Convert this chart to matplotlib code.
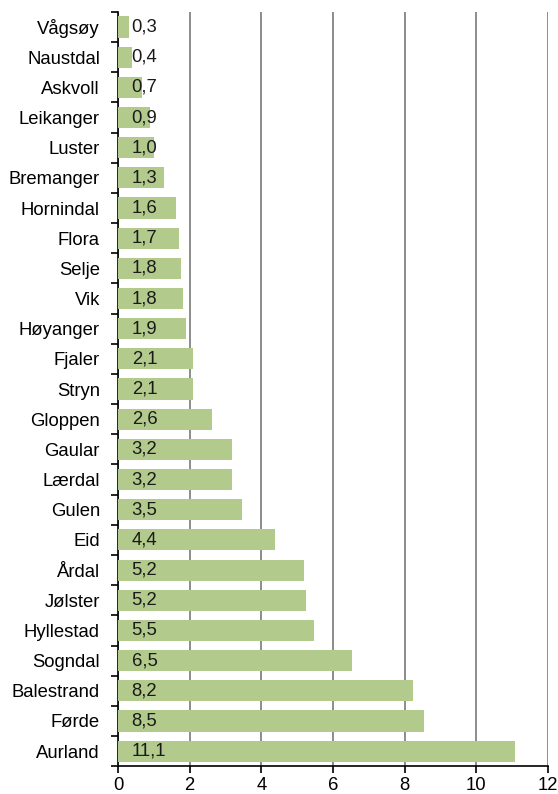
import matplotlib.pyplot as plt
import numpy as np

plt.rcParams['font.family'] = ['Liberation Sans', 'DejaVu Sans']

kommuner = ["Vågsøy", "Naustdal", "Askvoll", "Leikanger", "Luster", "Bremanger",
            "Hornindal", "Flora", "Selje", "Vik", "Høyanger", "Fjaler", "Stryn",
            "Gloppen", "Gaular", "Lærdal", "Gulen", "Eid", "Årdal", "Jølster",
            "Hyllestad", "Sogndal", "Balestrand", "Førde", "Aurland"]
verdi = [0.3, 0.4, 0.7, 0.9, 1.0, 1.3, 1.6, 1.7, 1.8, 1.8, 1.9, 2.1, 2.1,
         2.6, 3.2, 3.2, 3.5, 4.4, 5.2, 5.2, 5.5, 6.5, 8.2, 8.5, 11.1]
# bar lengths (labels are rounded)
lengde = [0.32, 0.38, 0.68, 0.88, 1.0, 1.28, 1.63, 1.71, 1.77, 1.81, 1.89, 2.1, 2.1,
          2.62, 3.18, 3.18, 3.47, 4.37, 5.2, 5.24, 5.47, 6.53, 8.22, 8.53, 11.08]

fs = 13.3

fig = plt.figure(figsize=(5.58, 7.94), dpi=100)
ax = fig.add_axes([0.2115, 0.035, 0.7705, 0.95])

y = np.arange(len(kommuner))
ax.barh(y, lengde, height=0.7, color='#B3CA8D', zorder=3)

for yi, v in zip(y, verdi):
    ax.text(0.38, yi, f"{v:.1f}".replace('.', ','), va='center', ha='left',
            fontsize=fs, color='#1a1a1a', zorder=4)

ax.set_xlim(0, 12)
ax.set_ylim(len(kommuner) - 0.5, -0.5)
ax.set_xticks(range(0, 13, 2))
ax.set_yticks(y)
ax.set_yticklabels(kommuner)
ax.set_yticks(np.arange(-0.5, len(kommuner), 1), minor=True)

ax.xaxis.grid(True, color='#8C8C8C', linewidth=1.4, zorder=0)
ax.tick_params(axis='y', which='major', length=0, pad=13, labelsize=fs)
ax.tick_params(axis='y', which='minor', length=5, width=1.2, direction='out')
ax.tick_params(axis='x', length=5, width=1.2, direction='out', pad=2.5, labelsize=fs)

ax.spines['top'].set_visible(False)
ax.spines['right'].set_visible(False)
ax.spines['left'].set_linewidth(1.2)
ax.spines['bottom'].set_linewidth(1.2)

fig.savefig('out.png', dpi=100)
